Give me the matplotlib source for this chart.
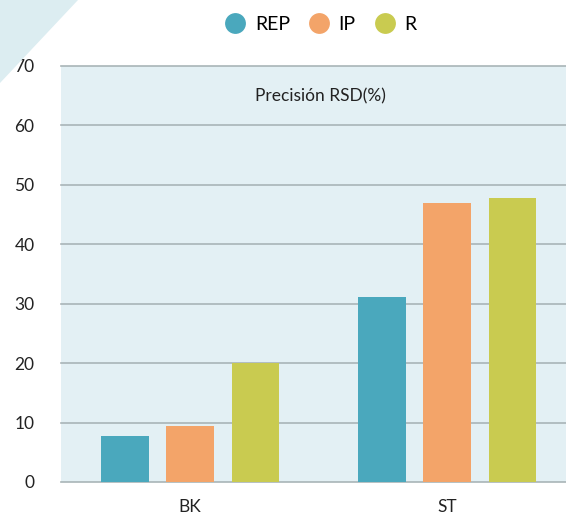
import matplotlib
matplotlib.use("Agg")
import matplotlib.pyplot as plt
from matplotlib.patches import Polygon
from matplotlib.lines import Line2D
import numpy as np

categories = ["BK", "ST"]
series_names = ["REP", "IP", "R"]
rep = [7.7, 31.1]
ip = [9.4, 47.0]
r = [20.0, 47.8]
yticks = [0, 10, 20, 30, 40, 50, 60, 70]
title = "Precisión RSD(%)"
colors = ["#4aa8bd", "#f3a469", "#c9cb50"]

plt.rcParams['font.family'] = ['Lato', 'DejaVu Sans']

W, H = 566, 515
fig = plt.figure(figsize=(W/100, H/100), dpi=100)

# decorative triangle
fig.patches.append(Polygon([[0, 1], [78/W, 1], [0, 1 - 83/H]], closed=True,
                           transform=fig.transFigure, facecolor="#dcedf1",
                           edgecolor="none", zorder=0))

ax = fig.add_axes([61/W, 33/H, 1 - 61/W, (482-66)/H])
ax.set_facecolor("#e3f0f4")
x = np.arange(len(categories))
bw = 0.183
off = 0.253
for i, (vals, c) in enumerate(zip([rep, ip, r], colors)):
    ax.bar(x + (i-1)*off, vals, width=bw, color=c, zorder=3)

ax.set_ylim(0, 70)
ax.set_xlim(-0.502, 1.463)
ax.set_yticks(yticks)
ax.set_xticks(x)
ax.set_xticklabels(categories)
for yv in yticks:
    ax.axhline(yv, color="#a9b5b7", linewidth=1.2, zorder=1, clip_on=False)
for s in ax.spines.values():
    s.set_visible(False)
ax.tick_params(axis='both', length=0, labelsize=12.5, colors="#222222")
ax.tick_params(axis='y', pad=19)
ax.tick_params(axis='x', pad=12)
ax.text((320-61)/(W-61), 1 - (96-66)/(482-66), title, transform=ax.transAxes,
        ha='center', va='center', fontsize=12.5, color="#222222")

handles = [Line2D([0], [0], marker='o', linestyle='none', markersize=15,
                  markerfacecolor=c, markeredgecolor='none') for c in colors]
fig.legend(handles, series_names, loc='center', bbox_to_anchor=(320/W, 1 - 24/H),
           ncol=3, frameon=False, fontsize=14, handletextpad=0.4,
           columnspacing=0.9, handlelength=1.2)

fig.savefig("out.png", dpi=100)
